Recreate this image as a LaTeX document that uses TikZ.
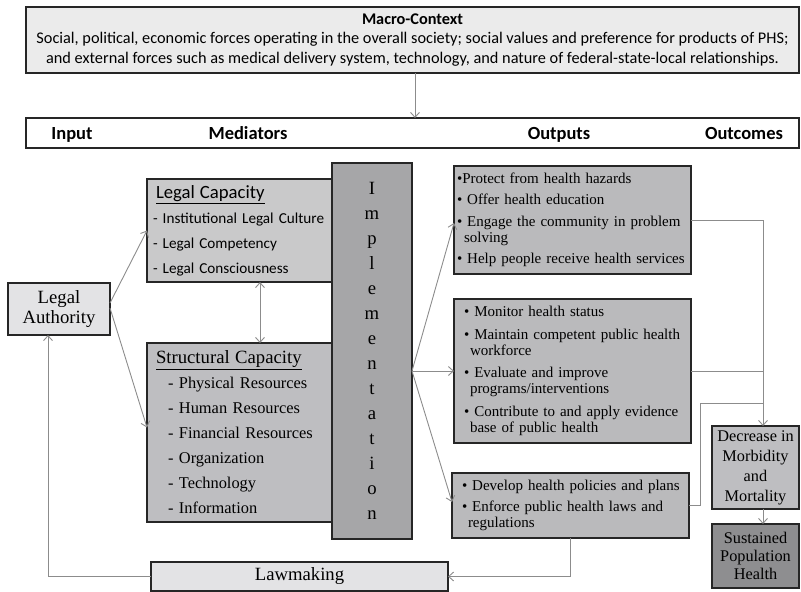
\documentclass[tikz,border=0pt]{standalone}
\usepackage{fontspec}
\setmainfont{Liberation Serif}
\newfontfamily\calfont{Carlito}
\usetikzlibrary{arrows.meta,calc}

\definecolor{boxline}{HTML}{262626}
\definecolor{linkgray}{HTML}{8C8C8C}
\definecolor{macrofill}{HTML}{EBEBEB}
\definecolor{lightfill}{HTML}{E3E3E5}
\definecolor{legfill}{HTML}{C9C9CA}
\definecolor{strfill}{HTML}{BEBEC1}
\definecolor{implfill}{HTML}{A6A6A8}
\definecolor{outfill}{HTML}{BABABC}
\definecolor{sustfill}{HTML}{8E8E90}

\tikzset{
  box/.style={draw=boxline, line width=1.3pt, outer sep=0pt},
  link/.style={draw=linkgray, line width=0.9pt, ->},
  headlabel/.style={anchor=base, font=\calfont\bfseries\fontsize{18.5}{20}\selectfont},
}

\begin{document}
\begin{tikzpicture}[x=1pt, y=-1pt, >={Straight Barb[length=5pt,width=9pt]}]
	\useasboundingbox (0,0) rectangle (801,592);

	% macro context
	\node[box, fill=macrofill, minimum width=773pt, minimum height=66pt, align=center,
	      font=\calfont\fontsize{16.3}{19.5}\selectfont] (macro) at (412.5,40)
	  {{\bfseries Macro-Context}\\
	   Social, political, economic forces operating in the overall society; social values and preference for products of PHS;\\
	   and external forces such as medical delivery system, technology, and nature of federal-state-local relationships.};

	% header band
	\node[box, fill=white, minimum width=773pt, minimum height=30pt] (header) at (412.5,133) {};
	\node[headlabel] (inlab) at (72,139.5) {Input};
	\node[headlabel] (medlab) at (248,139.5) {Mediators};
	\node[headlabel] (outlab) at (559,139.5) {Outputs};
	\node[headlabel] (outclab) at (744,139.5) {Outcomes};

	% input
	\node[box, fill=lightfill, minimum width=102pt, minimum height=52pt, align=center,
	      font=\fontsize{18.7}{20}\selectfont] (legauth) at (59,309) {Legal\\Authority};

	% mediators
	\node[box, fill=legfill, minimum width=226pt, minimum height=103pt, text width=214pt,
	      inner xsep=6pt, align=left, font=\calfont\fontsize{15.2}{25}\selectfont] (legcap) at (260,230.5)
	  {\hspace*{3pt}{\fontsize{18.7}{25}\selectfont\underline{Legal Capacity}}\\
	   - Institutional Legal Culture\\
	   - Legal Competency\\
	   - Legal Consciousness};
	\node[box, fill=strfill, minimum width=226pt, minimum height=179pt, text width=214pt,
	      inner xsep=6pt, align=left, font=\fontsize{16.4}{25}\selectfont] (strcap) at (260,432.5)
	  {\hspace*{3pt}{\fontsize{18.7}{25}\selectfont\underline{Structural Capacity}}\\
	   \hspace*{15pt}- Physical Resources\\
	   \hspace*{15pt}- Human Resources\\
	   \hspace*{15pt}- Financial Resources\\
	   \hspace*{15pt}- Organization\\
	   \hspace*{15pt}- Technology\\
	   \hspace*{15pt}- Information};
	\node[box, fill=implfill, minimum width=80pt, minimum height=376pt, align=center,
	      font=\fontsize{18.7}{25}\selectfont] (impl) at (372,351)
	  {I\\m\\p\\l\\e\\m\\e\\n\\t\\a\\t\\i\\o\\n};

	% outputs
	\node[box, fill=outfill, minimum width=237pt, minimum height=108pt, text width=231pt,
	      inner xsep=3pt, align=left, font=\fontsize{15}{16}\selectfont] (out1) at (572.5,220)
	  {\textbullet Protect from health hazards\\[5.5pt]
	   \textbullet{} Offer health education\\[5.5pt]
	   \textbullet{} Engage the community in problem\\
	   \hspace*{7pt}solving\\[5.5pt]
	   \textbullet{} Help people receive health services};
	\node[box, fill=outfill, minimum width=237pt, minimum height=144pt, text width=231pt,
	      inner xsep=3pt, align=left, font=\fontsize{15}{16}\selectfont] (out2) at (572.5,371)
	  {\hspace*{7pt}\textbullet{} Monitor health status\\[6.5pt]
	   \hspace*{7pt}\textbullet{} Maintain competent public health\\
	   \hspace*{13pt}workforce\\[6.5pt]
	   \hspace*{7pt}\textbullet{} Evaluate and improve\\
	   \hspace*{13pt}programs/interventions\\[6.5pt]
	   \hspace*{7pt}\textbullet{} Contribute to and apply evidence\\
	   \hspace*{13pt}base of public health};
	\node[box, fill=outfill, minimum width=237pt, minimum height=65pt, text width=231pt,
	      inner xsep=3pt, align=left, font=\fontsize{15}{16}\selectfont] (out3) at (570.5,505.5)
	  {\hspace*{7pt}\textbullet{} Develop health policies and plans\\[5pt]
	   \hspace*{7pt}\textbullet{} Enforce public health laws and\\
	   \hspace*{13pt}regulations};

	% outcomes
	\node[box, fill=strfill, minimum width=87pt, minimum height=83pt, align=center,
	      font=\fontsize{16.3}{20}\selectfont] (decr) at (755.5,467.5)
	  {Decrease in\\Morbidity\\and\\Mortality};
	\node[box, fill=sustfill, minimum width=87pt, minimum height=64pt, align=center,
	      font=\fontsize{16.3}{18}\selectfont] (sust) at (755.5,556)
	  {Sustained\\Population\\Health};

	% feedback
	\node[box, fill=lightfill, minimum width=297pt, minimum height=29pt,
	      font=\fontsize{18.7}{20}\selectfont] (lawmk) at (299.5,576.5) {Lawmaking};

	% connectors
	\draw[link] ([xshift=2.5pt]macro.south) -- ([xshift=2.5pt]header.north);
	\draw[link] ($(legauth.east)+(0,-6)$) -- (legcap.west);
	\draw[link] ($(legauth.east)+(0,-1)$) -- ($(strcap.west)+(0,-5)$);
	\draw[link,<->] (legcap.south) -- (strcap.north);

	\coordinate (fork) at (impl.east |- out2.west);
	\draw[link] (fork) -- ($(out1.west)+(0,3)$);
	\draw[link] (fork) -- (out2.west);
	\draw[link] (fork) -- ($(out3.west)+(0,-3.5)$);

	\coordinate (merge) at ($(decr.north)+(7.5,0)$);
	\coordinate (join) at ($(merge |- out2.south)+(0,-40)$);
	\draw[link] (out1.east) -| (merge);
	\draw[link,-] (out2.east) -- (out2.east -| merge);
	\draw[link,-] (out3.east) -- ++(11,0) |- (join);
	\draw[link] (decr.south -| merge) -- (sust.north -| merge);

	\coordinate (back) at ($(legauth.south)+(-11,0)$);
	\draw[link] (out3.south) |- (lawmk.east);
	\draw[link] (lawmk.west) -| (back);

\end{tikzpicture}
\end{document}
